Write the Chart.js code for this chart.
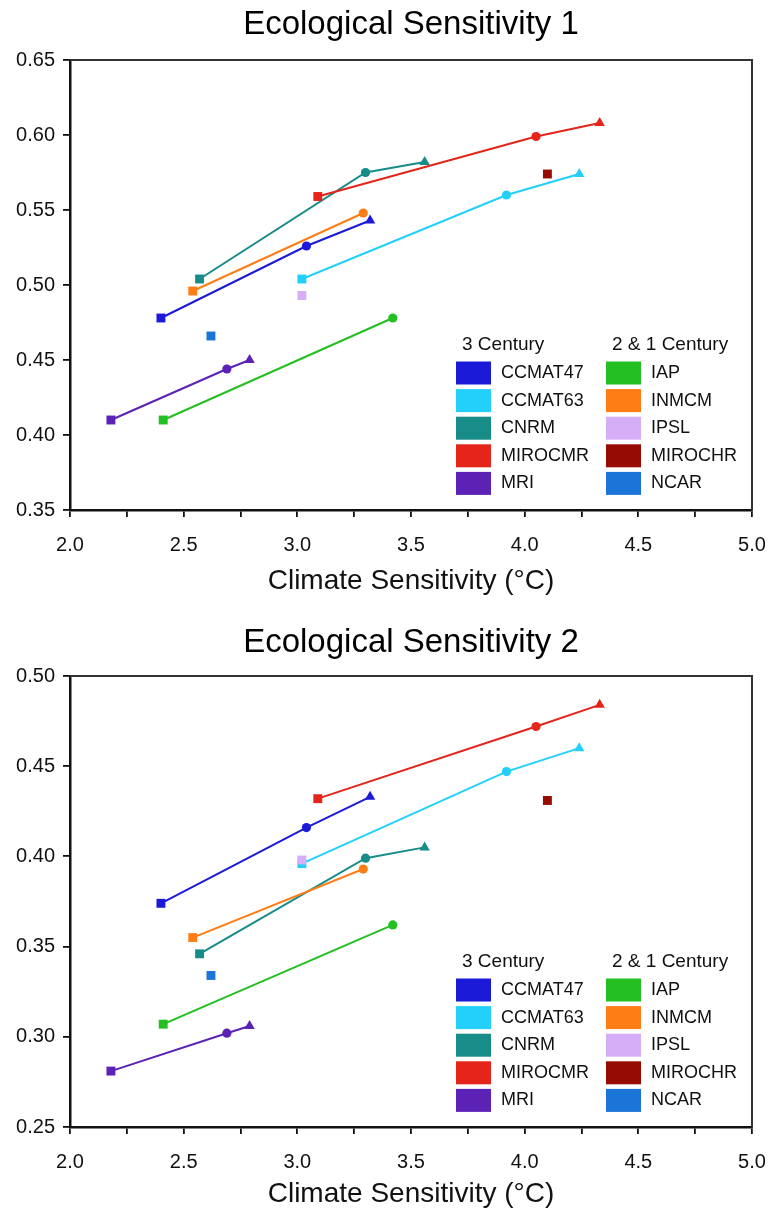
<!DOCTYPE html>
<html>
<head>
<meta charset="utf-8">
<script src="https://cdn.jsdelivr.net/npm/chart.js@4.4.1/dist/chart.umd.min.js"></script>
<style>
  body { margin: 0; background: #fff; }
  .panel { position: absolute; left: 0; width: 772px; height: 607px; }
</style>
</head>
<body>
<div class="panel" style="top:0"><canvas id="es1Chart" width="772" height="607"></canvas></div>
<div class="panel" style="top:607px"><canvas id="es2Chart" width="772" height="607"></canvas></div>
<script>
// Modelos
const models3 = ['CCMAT47', 'CCMAT63', 'CNRM', 'MIROCMR', 'MRI'];
const models21 = ['IAP', 'INMCM', 'IPSL', 'MIROCHR', 'NCAR'];

// Climate sensitivity (°C) of each run
const ccmat47CS = [2.40, 3.04, 3.32];
const ccmat63CS = [3.02, 3.92, 4.24];
const cnrmCS = [2.57, 3.30, 3.56];
const mirocmrCS = [3.09, 4.05, 4.33];
const mriCS = [2.18, 2.69, 2.79];
const iapCS = [2.41, 3.42];
const inmcmCS = [2.54, 3.29];
const ipslCS = [3.02];
const mirochrCS = [4.10];
const ncarCS = [2.62];

// Ecological sensitivity 1
const ccmat47ES1 = [0.478, 0.526, 0.543];
const ccmat63ES1 = [0.504, 0.560, 0.574];
const cnrmES1 = [0.504, 0.575, 0.582];
const mirocmrES1 = [0.559, 0.599, 0.608];
const mriES1 = [0.410, 0.444, 0.450];
const iapES1 = [0.410, 0.478];
const inmcmES1 = [0.496, 0.548];
const ipslES1 = [0.493];
const mirochrES1 = [0.574];
const ncarES1 = [0.466];

// Ecological sensitivity 2
const ccmat47ES2 = [0.374, 0.416, 0.433];
const ccmat63ES2 = [0.396, 0.447, 0.460];
const cnrmES2 = [0.346, 0.399, 0.405];
const mirocmrES2 = [0.432, 0.472, 0.484];
const mriES2 = [0.281, 0.302, 0.306];
const iapES2 = [0.307, 0.362];
const inmcmES2 = [0.355, 0.393];
const ipslES2 = [0.398];
const mirochrES2 = [0.431];
const ncarES2 = [0.334];

// Axis ranges
const xRange = [2.0, 5.0];
const es1Range = [0.35, 0.65];
const es2Range = [0.25, 0.50];

const FONT = '"Liberation Sans", Arial, Helvetica, sans-serif';

const modelColors = {
  CCMAT47: '#1a1ad8',
  CCMAT63: '#22d0fb',
  CNRM: '#178c88',
  MIROCMR: '#e5241a',
  MRI: '#5b22b5',
  IAP: '#24bf22',
  INMCM: '#fe7d14',
  IPSL: '#d6aef8',
  MIROCHR: '#960c02',
  NCAR: '#1b74d8'
};

// 3, 2 and 1 century runs
const runMarkers = ['rect', 'circle', 'triangle'];
const runRadius = [6.3, 4.6, 6];

function runs(model, xs, ys) {
  return {
    label: model,
    data: xs.map((x, i) => ({ x: x, y: ys[i] })),
    showLine: true,
    borderColor: modelColors[model],
    backgroundColor: modelColors[model],
    borderWidth: 2,
    pointStyle: runMarkers.slice(0, xs.length),
    pointRadius: runRadius.slice(0, xs.length),
    pointBorderWidth: 0
  };
}

const plotFrame = {
  id: 'plotFrame',
  afterDraw(chart) {
    const { ctx, chartArea: a } = chart;
    ctx.save();
    ctx.strokeStyle = '#333';
    ctx.lineWidth = 2;
    ctx.beginPath();
    ctx.moveTo(a.left, a.top);
    ctx.lineTo(a.right, a.top);
    ctx.lineTo(a.right, a.bottom);
    ctx.stroke();
    ctx.restore();
  }
};

const centuryLegend = {
  id: 'centuryLegend',
  afterDraw(chart) {
    const { ctx, chartArea: a } = chart;
    ctx.save();
    ctx.textBaseline = 'middle';
    ctx.textAlign = 'left';
    ctx.fillStyle = '#111';
    ctx.font = '19px ' + FONT;
    const headY = a.bottom - 165;
    ctx.fillText('3 Century', a.left + 392, headY);
    ctx.fillText('2 & 1 Century', a.left + 542, headY);
    ctx.font = '18px ' + FONT;
    [models3, models21].forEach((names, col) => {
      const x0 = a.left + 386 + col * 150;
      names.forEach((name, i) => {
        const yc = a.bottom - 137 + i * 27.6;
        ctx.fillStyle = modelColors[name];
        ctx.fillRect(x0, yc - 11.5, 35, 23);
        ctx.fillStyle = '#111';
        ctx.fillText(name, x0 + 45, yc);
      });
    });
    ctx.restore();
  }
};

function makeChart(canvasId, title, datasets, yRange, lay) {
  const axisGrid = { drawOnChartArea: false, drawTicks: true, tickLength: 7, color: '#111', lineWidth: 1.8 };
  const tickFont = { family: FONT, size: 20 };
  return new Chart(document.getElementById(canvasId).getContext('2d'), {
    type: 'scatter',
    data: { datasets: datasets },
    options: {
      responsive: false,
      animation: false,
      layout: { padding: { left: 0, right: 20, top: 0, bottom: 0 } },
      plugins: {
        legend: { display: false },
        tooltip: { enabled: false },
        title: {
          display: true,
          text: title,
          fullSize: false,
          color: '#000',
          font: { family: FONT, size: 33, weight: 'normal', lineHeight: 1 },
          padding: { top: lay.titleTop, bottom: lay.titleBottom }
        }
      },
      scales: {
        x: {
          type: 'linear',
          min: xRange[0],
          max: xRange[1],
          grid: axisGrid,
          border: { color: '#111', width: 2.5 },
          ticks: {
            stepSize: 0.25,
            autoSkip: false,
            maxRotation: 0,
            padding: 16,
            color: '#111',
            font: tickFont,
            callback: v => (Math.round(v * 4) % 2 === 0 ? v.toFixed(1) : '')
          },
          title: {
            display: true,
            text: 'Climate Sensitivity (°C)',
            color: '#111',
            font: { family: FONT, size: 28 },
            padding: { top: 0, bottom: lay.xTitlePad }
          },
          afterFit: s => {
            s.height = lay.xAxisHeight;
            s.paddingLeft = 0;
            s.paddingRight = 0;
          }
        },
        y: {
          type: 'linear',
          min: yRange[0],
          max: yRange[1],
          grid: axisGrid,
          border: { color: '#111', width: 2.5 },
          ticks: {
            stepSize: 0.05,
            padding: 8,
            color: '#111',
            font: tickFont,
            callback: v => v.toFixed(2)
          },
          afterFit: s => { s.width = 70; }
        }
      }
    },
    plugins: [plotFrame, centuryLegend]
  });
}

makeChart('es1Chart', 'Ecological Sensitivity 1', [
  runs('MIROCHR', mirochrCS, mirochrES1),
  runs('IPSL', ipslCS, ipslES1),
  runs('NCAR', ncarCS, ncarES1),
  runs('MIROCMR', mirocmrCS, mirocmrES1),
  runs('CCMAT47', ccmat47CS, ccmat47ES1),
  runs('INMCM', inmcmCS, inmcmES1),
  runs('CNRM', cnrmCS, cnrmES1),
  runs('CCMAT63', ccmat63CS, ccmat63ES1),
  runs('IAP', iapCS, iapES1),
  runs('MRI', mriCS, mriES1)
], es1Range, { titleTop: 8, titleBottom: 19, xAxisHeight: 97, xTitlePad: 9 });

makeChart('es2Chart', 'Ecological Sensitivity 2', [
  runs('MIROCHR', mirochrCS, mirochrES2),
  runs('IPSL', ipslCS, ipslES2),
  runs('NCAR', ncarCS, ncarES2),
  runs('MIROCMR', mirocmrCS, mirocmrES2),
  runs('CCMAT47', ccmat47CS, ccmat47ES2),
  runs('INMCM', inmcmCS, inmcmES2),
  runs('CNRM', cnrmCS, cnrmES2),
  runs('CCMAT63', ccmat63CS, ccmat63ES2),
  runs('IAP', iapCS, iapES2),
  runs('MRI', mriCS, mriES2)
], es2Range, { titleTop: 19, titleBottom: 17, xAxisHeight: 87, xTitlePad: 3 });
</script>
</body>
</html>
